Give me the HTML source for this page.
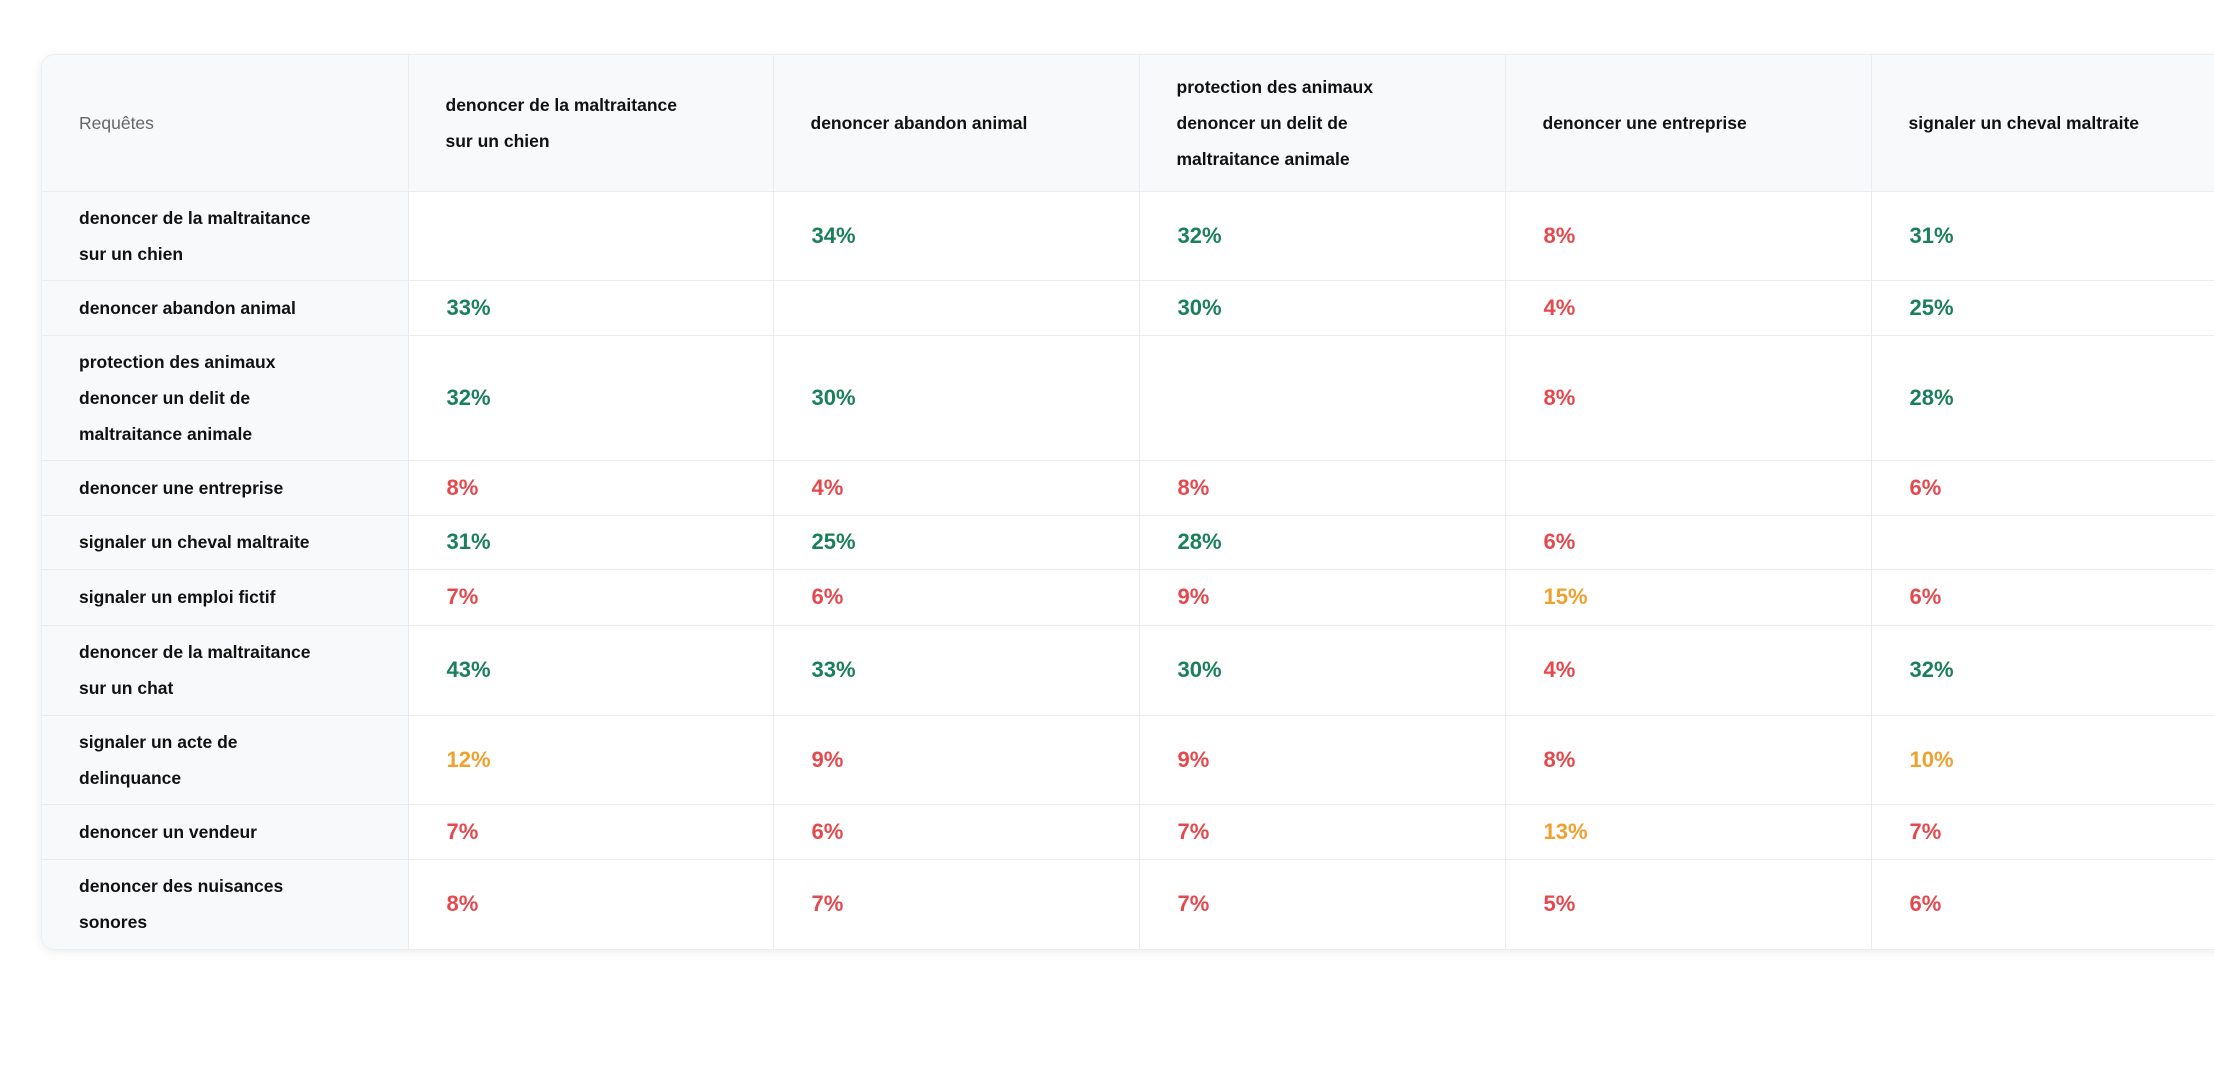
<!DOCTYPE html>
<html><head><meta charset="utf-8"><style>
html,body{margin:0;padding:0;background:#fff;width:2214px;height:1082px;overflow:hidden}
.wrap{position:absolute;left:41px;top:54px;width:2300px;border-radius:14px;box-shadow:0 2px 10px rgba(0,0,0,0.08);border:1px solid #eceef0;overflow:hidden;background:#fff}
table{border-collapse:collapse;table-layout:fixed;width:2195px;font-family:"Liberation Sans",sans-serif}
td,th{border-right:1px solid #eaecef;border-bottom:1px solid #eaecef;padding:0 0 0 37px;vertical-align:middle;text-align:left;font-size:17.5px;font-weight:bold;color:#111;line-height:36px;box-sizing:border-box}
th{background:#f8f9fa}
td.h{background:#f8f9fa}
th.q{color:#666;font-weight:normal}
td.v{font-size:22px;padding-left:38px}
.g{color:#1a7f5a}.r{color:#e5484d}.o{color:#eea12e}
tr:last-child td{border-bottom:none}
</style></head><body>
<div class="wrap"><table>
<colgroup><col style="width:366px"><col style="width:365px"><col style="width:366px"><col style="width:366px"><col style="width:366px"><col style="width:366px"></colgroup>
<tr style="height:136px"><th class="q">Requêtes</th><th>denoncer de la maltraitance<br>sur un chien</th><th>denoncer abandon animal</th><th>protection des animaux<br>denoncer un delit de<br>maltraitance animale</th><th>denoncer une entreprise</th><th>signaler un cheval maltraite</th></tr>
<tr style="height:89px"><td class="h">denoncer de la maltraitance<br>sur un chien</td><td class="v"></td><td class="v g">34%</td><td class="v g">32%</td><td class="v r">8%</td><td class="v g">31%</td></tr>
<tr style="height:55px"><td class="h">denoncer abandon animal</td><td class="v g">33%</td><td class="v"></td><td class="v g">30%</td><td class="v r">4%</td><td class="v g">25%</td></tr>
<tr style="height:125px"><td class="h">protection des animaux<br>denoncer un delit de<br>maltraitance animale</td><td class="v g">32%</td><td class="v g">30%</td><td class="v"></td><td class="v r">8%</td><td class="v g">28%</td></tr>
<tr style="height:55px"><td class="h">denoncer une entreprise</td><td class="v r">8%</td><td class="v r">4%</td><td class="v r">8%</td><td class="v"></td><td class="v r">6%</td></tr>
<tr style="height:54px"><td class="h">signaler un cheval maltraite</td><td class="v g">31%</td><td class="v g">25%</td><td class="v g">28%</td><td class="v r">6%</td><td class="v"></td></tr>
<tr style="height:56px"><td class="h">signaler un emploi fictif</td><td class="v r">7%</td><td class="v r">6%</td><td class="v r">9%</td><td class="v o">15%</td><td class="v r">6%</td></tr>
<tr style="height:90px"><td class="h">denoncer de la maltraitance<br>sur un chat</td><td class="v g">43%</td><td class="v g">33%</td><td class="v g">30%</td><td class="v r">4%</td><td class="v g">32%</td></tr>
<tr style="height:89px"><td class="h">signaler un acte de<br>delinquance</td><td class="v o">12%</td><td class="v r">9%</td><td class="v r">9%</td><td class="v r">8%</td><td class="v o">10%</td></tr>
<tr style="height:55px"><td class="h">denoncer un vendeur</td><td class="v r">7%</td><td class="v r">6%</td><td class="v r">7%</td><td class="v o">13%</td><td class="v r">7%</td></tr>
<tr style="height:90px"><td class="h">denoncer des nuisances<br>sonores</td><td class="v r">8%</td><td class="v r">7%</td><td class="v r">7%</td><td class="v r">5%</td><td class="v r">6%</td></tr>
</table></div>
</body></html>
